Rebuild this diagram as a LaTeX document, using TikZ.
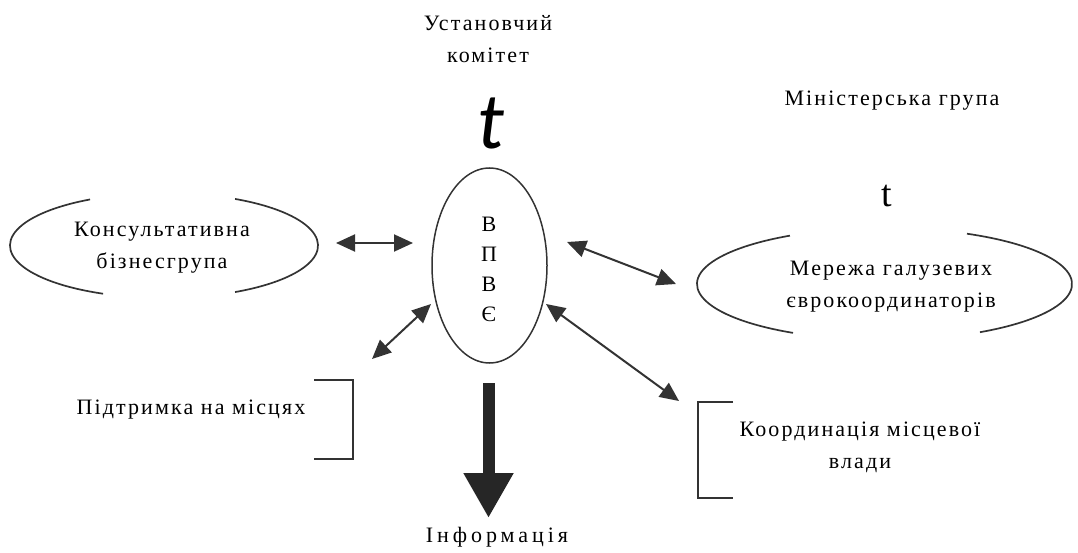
\documentclass[tikz,border=0pt]{standalone}
\usepackage{fontspec}
\setmainfont{Liberation Serif}
\newfontfamily\bigtfont{Carlito}
\usetikzlibrary{arrows.meta,shapes.geometric,calc}
\begin{document}
\begin{tikzpicture}[x=1pt,y=-1pt,
  lbl/.style={font=\fontsize{22}{32}\selectfont\addfontfeatures{LetterSpace=9.5}, align=center, inner sep=0pt},
  shapeline/.style={draw=black!80, line width=1.7pt},
  biarrow/.style={draw=black!80, line width=2pt,
    {Triangle[width=17pt,length=19pt]}-{Triangle[width=17pt,length=19pt]}},
  bigarrow/.style={draw=black!85, line width=12pt, -{Triangle[width=47pt,length=45pt]}},
]
\useasboundingbox (0,0) rectangle (1078,553);

% texts at top
\node[lbl] (ust) at (488,39) {Установчий\\комітет};
\node[inner sep=0pt, font=\bigtfont\itshape\fontsize{80}{80}\selectfont] (tbig) at (491,124) {t};
\node[lbl] (min) at (892,101) {Міністерська група};
\node[inner sep=0pt, font=\fontsize{38}{38}\selectfont] (tsmall) at (887,196) {t};

% central ellipse
\node[ellipse, shapeline, line width=1.5pt, minimum width=115pt, minimum height=195pt, inner sep=0pt] (vpve) at (489.5,265.5) {};
\node[inner sep=0pt, align=center, font=\fontsize{22}{30}\selectfont] (letters) at (489,269) {В\\П\\В\\Є};

% left ellipse (with gaps)
\node[inner sep=0pt, minimum width=308pt, minimum height=105pt] (kbg) at (164,245.5) {};
\node[lbl] (kbgt) at (162,248) {Консультативна\\бізнесгрупа};
\draw[shapeline] ($(kbg.center)+({154*cos(-62.5)},{52.5*sin(-62.5)})$)
  arc[start angle=-62.5, end angle=62.5, x radius=154, y radius=52.5];
\draw[shapeline] ($(kbg.center)+({154*cos(113.3)},{52.5*sin(113.3)})$)
  arc[start angle=113.3, end angle=241.3, x radius=154, y radius=52.5];

% right ellipse (with gaps)
\node[inner sep=0pt, minimum width=375pt, minimum height=112pt] (mgy) at (884.5,284) {};
\node[lbl] (mgyt) at (891,287) {Мережа галузевих\\єврокоординаторів};
\draw[shapeline] ($(mgy.center)+({187.5*cos(-63.9)},{56*sin(-63.9)})$)
  arc[start angle=-63.9, end angle=59.4, x radius=187.5, y radius=56];
\draw[shapeline] ($(mgy.center)+({187.5*cos(119.2)},{56*sin(119.2)})$)
  arc[start angle=119.2, end angle=239.7, x radius=187.5, y radius=56];

% left bracket box
\node[lbl] (pnm) at (191,410) {Підтримка на місцях};
\draw[shapeline] (314,380) -- (353,380) -- (353,459) -- (314,459);

% right bracket box
\node[lbl] (kmv) at (860,447) {Координація місцевої\\влади};
\draw[shapeline] (733,402) -- (698,402) -- (698,498) -- (733,498);

% information
\node[font=\fontsize{22}{22}\selectfont\addfontfeatures{LetterSpace=18}, inner sep=0pt] (inf) at (497,537) {Інформація};

% arrow end points
\coordinate (a1s) at (336,243);
\coordinate (a1e) at (413,243);
\coordinate (a2s) at (567,242);
\coordinate (a2e) at (676,284);
\coordinate (a3s) at (431,304);
\coordinate (a3e) at (372,359);
\coordinate (a4s) at (546,304);
\coordinate (a4e) at (679,401);
\coordinate (dS) at (488.5,383);
\coordinate (dE) at (488.5,518);

\draw[biarrow] (a1s) -- (a1e);
\draw[biarrow] (a2s) -- (a2e);
\draw[biarrow] (a3s) -- (a3e);
\draw[biarrow] (a4s) -- (a4e);
\draw[bigarrow] (dS) -- (dE);
\end{tikzpicture}
\end{document}
